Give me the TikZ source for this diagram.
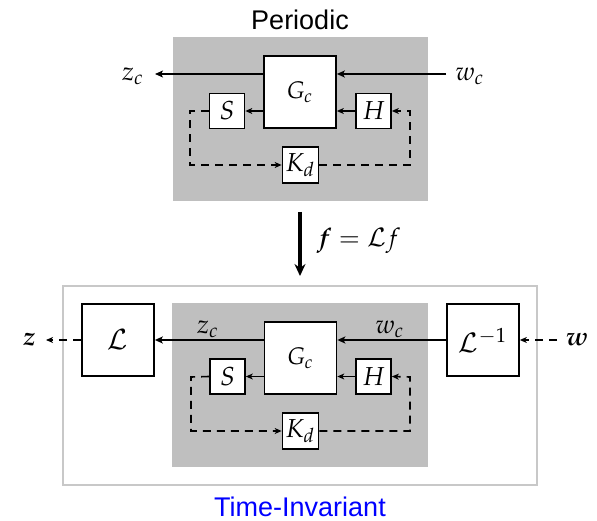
\documentclass[tikz,border=0pt]{standalone}
\usepackage{amsmath}
\usepackage{graphicx}
\usepackage{mathpazo}
\usepackage[no-math]{fontspec}
\newfontfamily\sansf{Liberation Sans}
\usetikzlibrary{arrows.meta}
\definecolor{boxgray}{RGB}{191,191,191}
\definecolor{framegray}{RGB}{200,200,200}
\definecolor{tiblue}{RGB}{0,0,255}
\newcommand\mth[2]{\scalebox{#1}{$#2$}}
\begin{document}
\begin{tikzpicture}[x=1pt,y=-1pt,
  blk/.style={draw,line width=1.7pt,fill=white,minimum width=#1,minimum height=#1,inner sep=0pt,font=\fontsize{10}{12}\selectfont},
  lbl/.style={inner sep=0pt,font=\fontsize{10}{12}\selectfont},
  ttl/.style={inner sep=0pt,font=\sansf\fontsize{27}{30}\selectfont},
  main/.style={line width=1.8pt,-{Stealth[length=8pt,width=7pt,inset=2pt]}},
  fb/.style={line width=1.6pt,-{Stealth[length=7pt,width=6pt,inset=2pt]}},
  dsh/.style={line width=1.6pt,dash pattern=on 8pt off 6pt,-{Stealth[length=7pt,width=6pt,inset=2pt]}}]
\useasboundingbox (0,0) rectangle (597,521);

% ---------- Periodic (top) ----------
\node[ttl] (per) at (300,20) {Periodic};
\fill[boxgray] (173,37) rectangle (428,201);
\node[blk=72pt] (gcT) at (300,92) {\mth{2.4}{G_c}};
\node[blk=35pt] (sT) at (227,111) {\mth{2.6}{S}};
\node[blk=35pt] (hT) at (373.5,111) {\mth{2.6}{H}};
\node[blk=36pt] (kT) at (300.5,165) {\mth{2.6}{K_d}};
\coordinate (zcT) at (155,74);
\coordinate (wcT) at (446,74);
\node[lbl] (zcTl) at (133,76) {\mth{2.6}{z_c}};
\node[lbl] (wcTl) at (470,76) {\mth{2.6}{w_c}};
\draw[main] (gcT.west |- zcT) -- (zcT);
\draw[main] (wcT) -- (gcT.east |- wcT);
\draw[fb] (gcT.west |- sT) -- (sT.east);
\draw[fb] (hT.west) -- (gcT.east |- hT);
\coordinate (c1T) at (190,111);
\coordinate (c2T) at (190,165);
\coordinate (c3T) at (410,165);
\coordinate (c4T) at (410,111);
\draw[dsh] (sT.west) -- (c1T) -- (c2T) -- (kT.west);
\draw[dsh] (kT.east) -- (c3T) -- (c4T) -- (hT.east);

% ---------- lifting arrow ----------
\coordinate (aT) at (300,212);
\coordinate (aB) at (300,276);
\draw[line width=3.5pt,-{Stealth[length=12pt,width=11pt]}] (aT) -- (aB);
\node[lbl,anchor=west] (flbl) at (316,241) {\mth{2.55}{\boldsymbol{f}=\mathcal{L}f}};

% ---------- Time-invariant (bottom) ----------
\draw[framegray,line width=1.5pt] (63,286) rectangle (537,485);
\fill[boxgray] (172,303) rectangle (428,467);
\node[blk=72pt] (L) at (118,340) {\mth{2.8}{\mathcal{L}}};
\node[blk=72pt] (Linv) at (483,340) {\mth{2.7}{\mathcal{L}^{-1}}};
\node[blk=72pt] (gcB) at (300.5,358) {\mth{2.4}{G_c}};
\node[blk=35pt] (sB) at (227.5,376.5) {\mth{2.6}{S}};
\node[blk=35pt] (hB) at (373.5,376.5) {\mth{2.6}{H}};
\node[blk=36pt] (kB) at (300.5,431) {\mth{2.6}{K_d}};
\node[lbl] (zcBl) at (208,329) {\mth{2.6}{z_c}};
\node[lbl] (wcBl) at (390,329) {\mth{2.6}{w_c}};
\draw[main] (gcB.west |- L) -- (L.east);
\draw[main] (Linv.west) -- (gcB.east |- Linv);
\draw[fb] (gcB.west |- sB) -- (sB.east);
\draw[fb] (hB.west) -- (gcB.east |- hB);
\coordinate (c1B) at (191,377);
\coordinate (c2B) at (191,431);
\coordinate (c3B) at (410,431);
\coordinate (c4B) at (410,377);
\draw[dsh] (sB.west) -- (c1B) -- (c2B) -- (kB.west);
\draw[dsh] (kB.east) -- (c3B) -- (c4B) -- (hB.east);
\coordinate (zend) at (46,340);
\coordinate (wst) at (557,340);
\node[lbl] (zl) at (29,340) {\mth{2.6}{\boldsymbol{z}}};
\node[lbl] (wl) at (577,340) {\mth{2.6}{\boldsymbol{w}}};
\draw[dsh] (L.west) -- (zend);
\draw[dsh] (wst) -- (Linv.east);
\node[ttl,text=tiblue] (ti) at (300,507) {Time-Invariant};
\end{tikzpicture}
\end{document}
